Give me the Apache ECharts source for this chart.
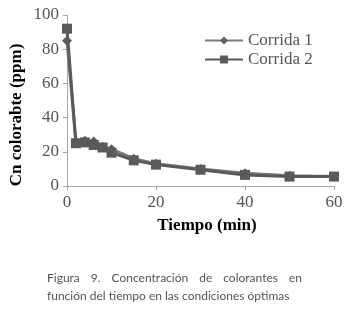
<!DOCTYPE html>
<html>
<head>
<meta charset="utf-8">
<script src="https://cdn.jsdelivr.net/npm/echarts@6/dist/echarts.min.js"></script>
<style>
html, body { margin: 0; padding: 0; background: #fff; }
#wrap { position: relative; width: 353px; height: 313px; }
#main { width: 353px; height: 313px; }
#caption {
    position: absolute; left: 47px; top: 269px; width: 255px;
    font-family: Lato, sans-serif; font-size: 12px; line-height: 18px;
    color: #555; text-align: justify;
}
</style>
</head>
<body>
<div id="wrap">
<div id="main"></div>
<div id="caption">Figura 9. Concentración de colorantes en función del tiempo en las condiciones óptimas</div>
</div>
<script>
var tiempo = [0, 2, 4, 6, 8, 10, 15, 20, 30, 40, 50, 60];
var corrida1 = [85, 26, 26.5, 26, 23, 21.5, 16, 13, 10, 7.5, 6, 5.5];
var corrida2 = [92, 25, 25.5, 24, 22.5, 19.5, 15, 12.5, 9.5, 6.5, 5.5, 5.5];

function pairs(xs, ys) {
    var out = [];
    for (var i = 0; i < xs.length; i++) out.push([xs[i], ys[i]]);
    return out;
}

var myChart = echarts.init(document.getElementById('main'));
var serif = 'Times New Roman';

var option = {
    grid: {
        left: 67,
        right: 19,
        top: 15,
        bottom: 127
    },
    legend: {
        data: ['Corrida 1', 'Corrida 2'],
        orient: 'vertical',
        left: 199,
        top: 27,
        itemWidth: 38,
        itemHeight: 10,
        itemGap: 2,
        textStyle: { fontFamily: serif, fontSize: 17 }
    },
    xAxis: {
        type: 'value',
        min: 0,
        max: 60,
        interval: 20,
        axisLine: { lineStyle: { color: '#a6a6a6', width: 1 } },
        axisTick: { show: true, length: 4, lineStyle: { color: '#a6a6a6' } },
        axisLabel: { fontFamily: serif, fontSize: 17, margin: 8 },
        splitLine: { show: false }
    },
    yAxis: {
        type: 'value',
        min: 0,
        max: 100,
        interval: 20,
        axisLine: { show: true, lineStyle: { color: '#a6a6a6', width: 1 } },
        axisTick: { show: true, length: 4, lineStyle: { color: '#a6a6a6' } },
        axisLabel: { fontFamily: serif, fontSize: 17, margin: 8 },
        splitLine: { show: false }
    },
    series: [
        {
            name: 'Corrida 1',
            type: 'line',
            data: pairs(tiempo, corrida1),
            symbol: 'diamond',
            symbolSize: 10,
            lineStyle: { color: '#7a7a7a', width: 3 },
            itemStyle: { color: '#5f5f5f' },
            z: 2
        },
        {
            name: 'Corrida 2',
            type: 'line',
            data: pairs(tiempo, corrida2),
            symbol: 'rect',
            symbolSize: 10,
            lineStyle: { color: '#5a5a5a', width: 3 },
            itemStyle: { color: '#5a5a5a' },
            z: 3
        }
    ],
    graphic: [
        {
            type: 'text',
            x: 17,
            y: 115,
            rotation: Math.PI / 2,
            style: {
                text: 'Cn colorabte (ppm)',
                fontFamily: serif,
                fontWeight: 'bold',
                fontSize: 17,
                fill: '#000',
                align: 'center',
                verticalAlign: 'middle'
            }
        },
        {
            type: 'text',
            x: 207,
            y: 226,
            style: {
                text: 'Tiempo (min)',
                fontFamily: serif,
                fontWeight: 'bold',
                fontSize: 17,
                fill: '#000',
                align: 'center',
                verticalAlign: 'middle'
            }
        }
    ]
};
myChart.setOption(option);
window.onresize = myChart.resize;
</script>
</body>
</html>
